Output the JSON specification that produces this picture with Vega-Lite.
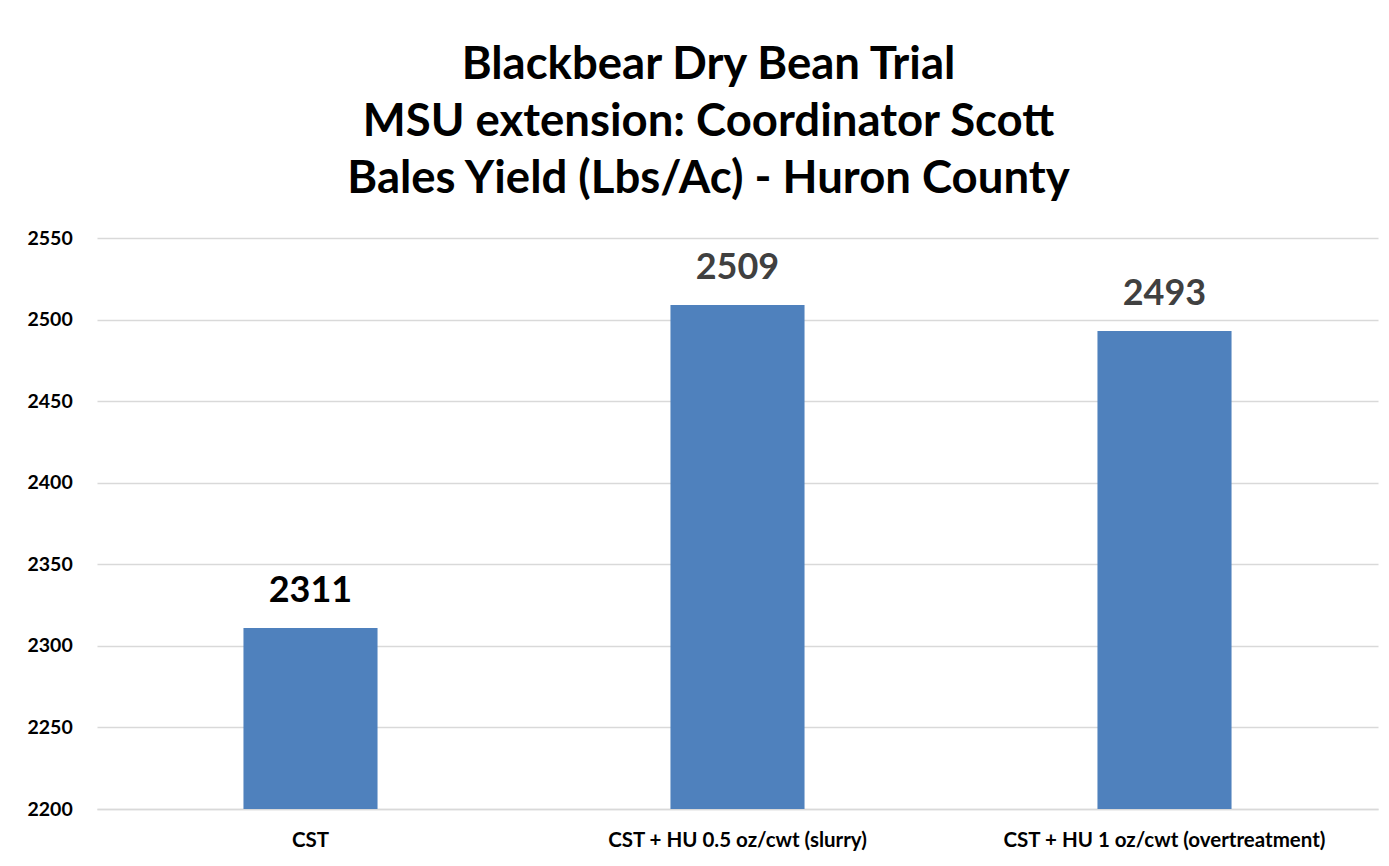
{
  "$schema": "https://vega.github.io/schema/vega-lite/v6.json",
  "width": 1281,
  "height": 571,
  "padding": {"left": 27, "top": 42, "right": 10, "bottom": 10},
  "background": "white",
  "title": {
    "text": ["Blackbear Dry Bean Trial", "MSU extension: Coordinator Scott", "Bales Yield (Lbs/Ac) - Huron County"],
    "font": "Lato",
    "fontSize": 45.5,
    "fontWeight": "bold",
    "color": "#000000",
    "lineHeight": 57,
    "anchor": "middle",
    "dx": -29,
    "offset": 26
  },
  "data": {
    "values": [
      {"treatment": "CST", "yield": 2311},
      {"treatment": "CST + HU 0.5 oz/cwt (slurry)", "yield": 2509},
      {"treatment": "CST + HU 1 oz/cwt (overtreatment)", "yield": 2493}
    ]
  },
  "encoding": {
    "x": {
      "field": "treatment",
      "type": "nominal",
      "sort": null,
      "scale": {"paddingInner": 0.686, "paddingOuter": 0.343},
      "axis": {
        "title": null,
        "labelAngle": 0,
        "labelFont": "Lato",
        "labelFontSize": 20.5,
        "labelFontWeight": "bold",
        "labelColor": "#000000",
        "labelPadding": 21,
        "labelLimit": 0,
        "ticks": false,
        "domainColor": "#d9d9d9",
        "domainWidth": 1.5
      }
    },
    "y": {
      "field": "yield",
      "type": "quantitative",
      "scale": {"domain": [2200, 2550], "nice": false, "zero": false},
      "axis": {
        "title": null,
        "format": "d",
        "values": [2200, 2250, 2300, 2350, 2400, 2450, 2500, 2550],
        "labelFont": "Lato",
        "labelFontSize": 19.5,
        "labelFontWeight": "bold",
        "labelColor": "#000000",
        "labelAlign": "left",
        "labelPadding": 70,
        "ticks": false,
        "domain": false,
        "gridColor": "#d9d9d9",
        "gridWidth": 1.5
      }
    }
  },
  "layer": [
    {"mark": {"type": "bar", "color": "#4f81bd", "clip": true}},
    {
      "mark": {"type": "text", "baseline": "bottom", "dy": -18, "font": "Lato", "fontSize": 36, "fontWeight": "bold"},
      "encoding": {
        "text": {"field": "yield", "type": "quantitative", "format": "d"},
        "color": {"condition": {"test": "datum.treatment === 'CST'", "value": "#000000"}, "value": "#404040"}
      }
    }
  ],
  "config": {"view": {"stroke": null}}
}
